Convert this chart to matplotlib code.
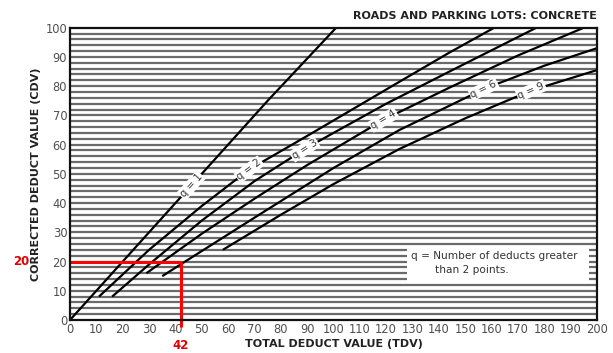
import numpy as np
import matplotlib.pyplot as plt

# CDV curves, one per q (number of deducts > 2 points)
q_values = [1, 2, 3, 4, 6, 9]
tdv_q1 = [0, 25, 50, 75, 101]
cdv_q1 = [0, 25, 50, 75, 100]
tdv_q2 = [11, 30, 50, 68, 91, 125, 144, 161]
cdv_q2 = [8, 24, 39, 51.5, 63.5, 81.5, 91.5, 100]
tdv_q3 = [16, 30, 50, 70, 90, 120, 144, 177]
cdv_q3 = [8, 19, 34, 47.5, 59, 74, 85, 100]
tdv_q4 = [29, 50, 70, 90, 119, 144, 170, 195]
cdv_q4 = [16, 29.5, 41.5, 53, 68.5, 79.5, 90.5, 100]
tdv_q6 = [35, 43, 70, 100, 125, 157, 180, 200]
cdv_q6 = [15, 19.6, 35, 52, 65, 79, 87, 93]
tdv_q9 = [58, 80, 100, 125, 150, 175, 200]
cdv_q9 = [24, 36, 46.5, 58.5, 69, 78.5, 85.5]

# worked example
example_tdv = 42
example_cdv = 20

curves = [(tdv_q1, cdv_q1), (tdv_q2, cdv_q2), (tdv_q3, cdv_q3),
          (tdv_q4, cdv_q4), (tdv_q6, cdv_q6), (tdv_q9, cdv_q9)]
label_x = [46, 68, 89, 119, 157, 175]

fig = plt.figure(figsize=(6.13, 3.53), dpi=100)
ax = fig.add_axes([0.1142, 0.0935, 0.8597, 0.828])
ax.set_xlim(0, 200)
ax.set_ylim(0, 100)

# striped background
for yy in np.arange(2, 100, 2):
    ax.axhline(yy, color='#6a6a6a', lw=1.6, zorder=1)

# note box
ax.add_patch(plt.Rectangle((128, 13.2), 69, 12.2, facecolor='white',
                           edgecolor='none', zorder=2))
ax.text(129.5, 21.9, 'q = Number of deducts greater', fontsize=7.6,
        color='#333333', va='center', ha='left', zorder=3)
ax.text(138.5, 17.0, 'than 2 points.', fontsize=7.6,
        color='#333333', va='center', ha='left', zorder=3)

for (xs, ys), q, lx in zip(curves, q_values, label_x):
    ax.plot(xs, ys, color='black', lw=1.6, zorder=4, solid_capstyle='butt')
    ly = np.interp(lx, xs, ys)
    i = np.searchsorted(xs, lx)
    i = min(max(i, 1), len(xs) - 1)
    slope = (ys[i] - ys[i - 1]) / (xs[i] - xs[i - 1])
    ang = np.degrees(np.arctan(slope))
    ax.text(lx, ly, 'q = %d' % q, fontsize=7.3, color='#333333',
            ha='center', va='center', rotation=ang,
            rotation_mode='anchor', transform_rotates_text=True,
            bbox=dict(boxstyle='square,pad=0.12', fc='white', ec='none'),
            zorder=5)

# red example lines
ax.plot([0, example_tdv], [example_cdv, example_cdv], color='red', lw=2.2,
        zorder=6, solid_capstyle='butt')
ax.plot([example_tdv, example_tdv], [example_cdv, -2.4], color='red', lw=2.2,
        zorder=6, solid_capstyle='butt', clip_on=False)
ax.text(-18.5, example_cdv, str(example_cdv), color='#e00000', fontsize=8.5,
        fontweight='bold', ha='center', va='center')
ax.text(example_tdv, -8.6, str(example_tdv), color='#e00000', fontsize=8.5,
        fontweight='bold', ha='center', va='center')

ax.set_xticks(np.arange(0, 201, 10))
ax.set_yticks(np.arange(0, 101, 10))
ax.tick_params(length=0, pad=2, labelsize=8.3, colors='#505050')
for s in ax.spines.values():
    s.set_linewidth(1.6)
    s.set_color('#111111')
    s.set_zorder(7)

ax.set_xlabel('TOTAL DEDUCT VALUE (TDV)', fontsize=8, fontweight='bold',
              color='#222222', labelpad=2)
ax.set_ylabel('CORRECTED DEDUCT VALUE (CDV)', fontsize=8, fontweight='bold',
              color='#222222', labelpad=3)
fig.text(0.974, 0.955, 'ROADS AND PARKING LOTS: CONCRETE', fontsize=8,
         fontweight='bold', color='#222222', ha='right', va='center')

fig.savefig('out.png', dpi=100)
